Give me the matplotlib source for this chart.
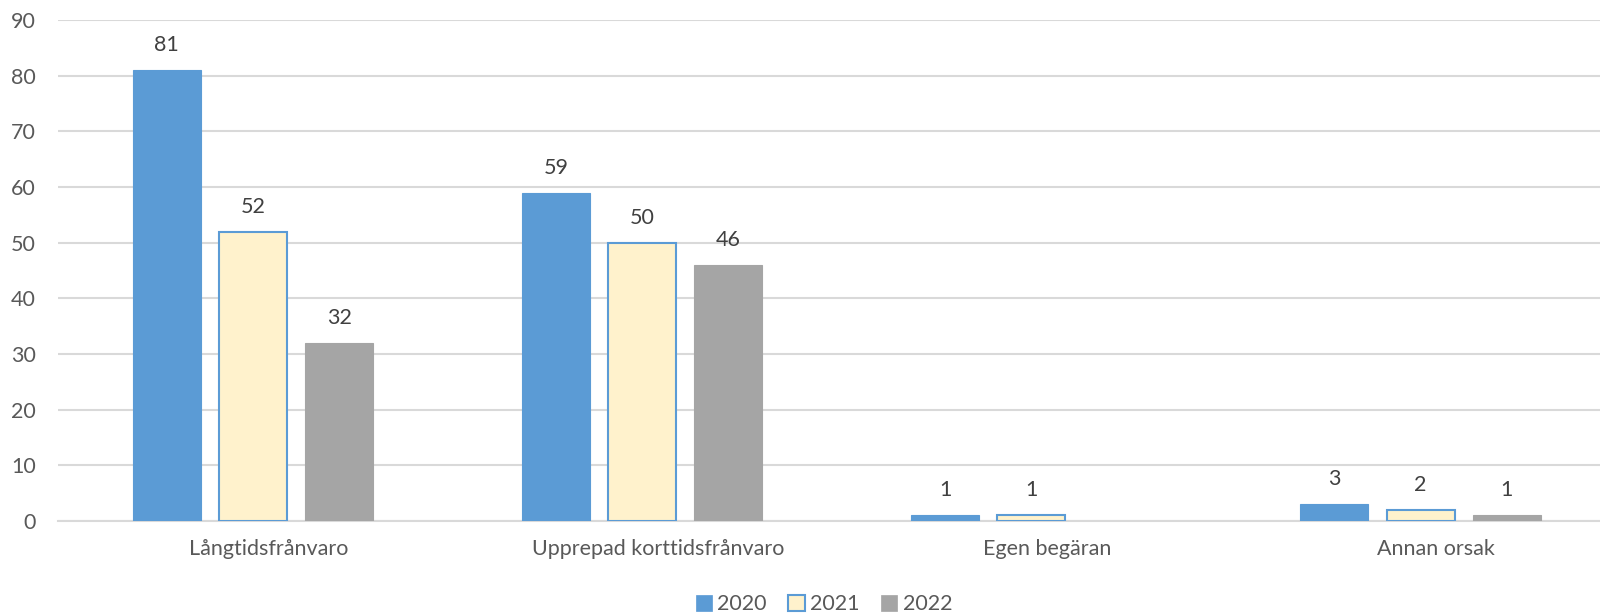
import numpy as np
import matplotlib.pyplot as plt
from matplotlib.patches import Patch

categories = ["Långtidsfrånvaro", "Upprepad korttidsfrånvaro", "Egen begäran", "Annan orsak"]
years = ["2020", "2021", "2022"]
values_2020 = [81, 59, 1, 3]
values_2021 = [52, 50, 1, 2]
values_2022 = [32, 46, np.nan, 1]
y_ticks = [0, 10, 20, 30, 40, 50, 60, 70, 80, 90]

plt.rcParams["font.family"] = ["Lato", "DejaVu Sans"]

fills = ["#5B9BD5", "#FFF2CC", "#A5A5A5"]
edges = ["#5B9BD5", "#5B9BD5", "#A5A5A5"]
fs = 15.5

fig = plt.figure(figsize=(16, 6.14), dpi=100)
# plot area from x=58px to the right edge, y from 20px to 521px (top)
ax = fig.add_axes([58 / 1600, 93 / 614, 1 - 58 / 1600, 501 / 614])

x = np.arange(len(categories))
bar_w = 0.1747
step = 0.2217
shift = -0.04

series = [values_2020, values_2021, values_2022]
for k, vals in enumerate(series):
    pos = x + shift + (k - 1) * step
    ax.bar(pos, vals, width=bar_w, color=fills[k], edgecolor=edges[k],
           linewidth=1.5 if k == 1 else 0.8, zorder=3)
    for px, v in zip(pos, vals):
        if np.isnan(v):
            continue
        ax.annotate(f"{v:g}", (px, v), xytext=(0, 18), textcoords="offset points",
                    ha="center", va="center", fontsize=fs, color="#404040")

ax.set_xlim(-0.541, 3.421)
ax.set_ylim(0, 90)
ax.set_yticks(y_ticks)
ax.set_xticks(x)
ax.set_xticklabels(categories)
ax.grid(axis="y", color="#D9D9D9", linewidth=1.5, zorder=0)
for s in ["top", "right", "left"]:
    ax.spines[s].set_visible(False)
ax.spines["bottom"].set_color("#D9D9D9")
ax.spines["bottom"].set_linewidth(1.5)
ax.tick_params(axis="y", length=0, pad=16, labelsize=fs, labelcolor="#595959")
ax.tick_params(axis="x", length=0, pad=13, labelsize=fs, labelcolor="#595959")

handles = [Patch(facecolor=fills[k], edgecolor=edges[k], linewidth=1.5 if k == 1 else 0.5)
           for k in range(3)]
fig.legend(handles, years, loc="center", bbox_to_anchor=(0.515, 0.016), ncol=3,
           frameon=False, fontsize=fs, handlelength=0.75, handleheight=0.75,
           handletextpad=0.25, columnspacing=1.0, labelcolor="#595959")

fig.savefig("out.png", dpi=100)
